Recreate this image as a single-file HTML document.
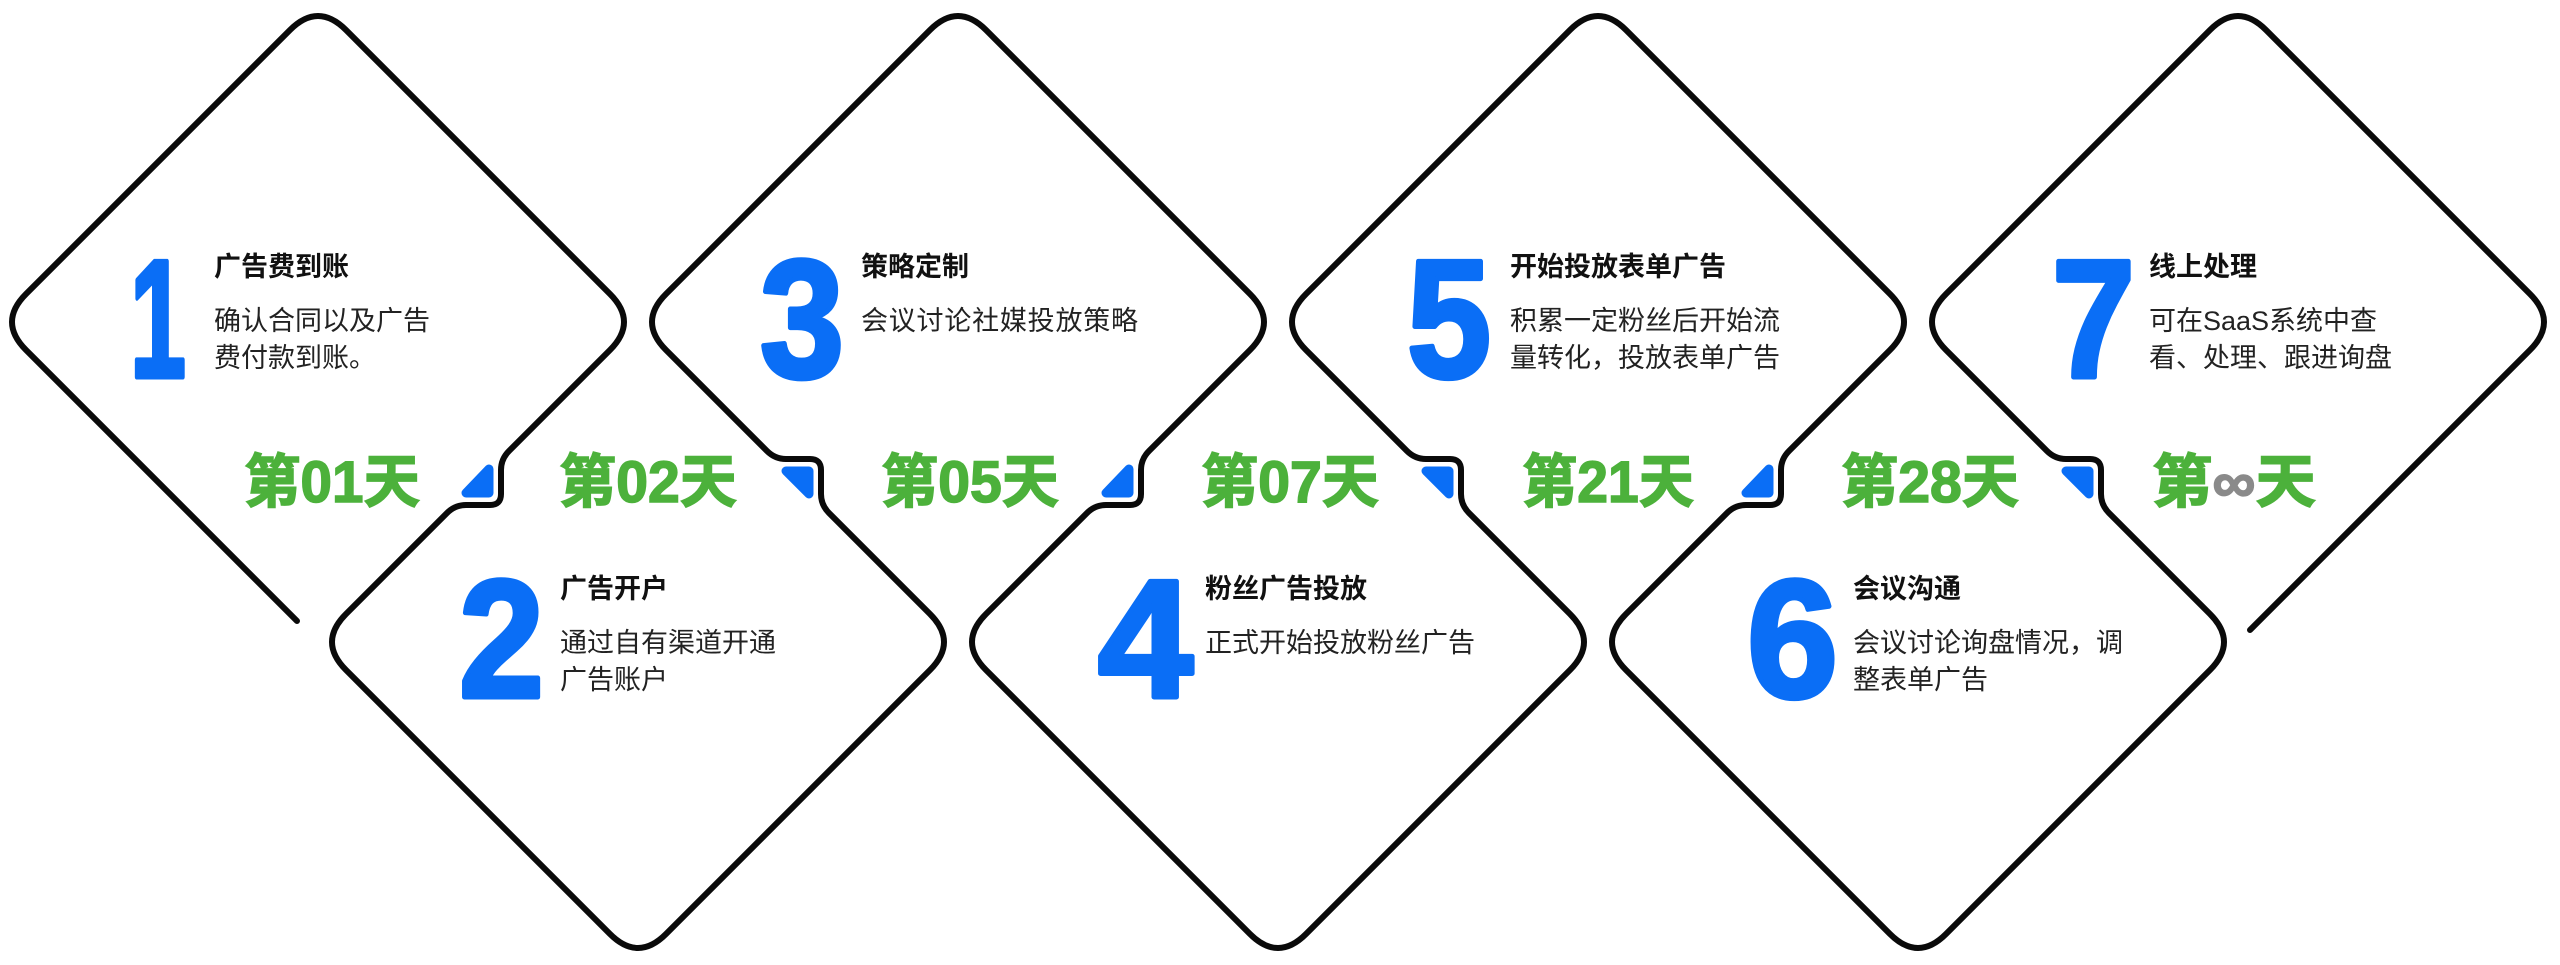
<!DOCTYPE html>
<html><head><meta charset="utf-8"><style>
html,body{margin:0;padding:0;background:#fff;}
svg{display:block;}
.n{font-family:"Liberation Sans",sans-serif;font-weight:700;font-size:168px;fill:#0a6ef6;stroke:#0a6ef6;stroke-width:5;stroke-linejoin:round;}
.t{font-family:"Liberation Sans","Noto Sans CJK SC",sans-serif;font-weight:700;font-size:27px;fill:#111;}
.d{font-family:"Liberation Sans","Noto Sans CJK SC",sans-serif;font-weight:400;font-size:27px;fill:#222;}
.g{font-family:"Liberation Sans","Noto Sans CJK SC",sans-serif;font-weight:700;font-size:58px;fill:#4cb13b;stroke:#4cb13b;stroke-width:1.5;}
</style></head><body>
<svg width="2560" height="965" viewBox="0 0 2560 965" xmlns="http://www.w3.org/2000/svg">
<path fill="none" stroke="#0a0a0a" stroke-width="6" stroke-linecap="round" stroke-linejoin="round" d="
M 297 621 L 26 350 Q -2 322 26 294 L 290 30 Q 318 2 346 30 L 610 294 Q 638 322 610 350 L 509 451 Q 501 459 501 470 L 501 494 Q 501 505 490 505 L 466 505 Q 455 505 447 513
L 346 614 Q 318 642 346 670 L 610 934 Q 638 962 666 934 L 930 670 Q 958 642 930 614 L 829 513 Q 821 505 821 494 L 821 470 Q 821 459 810 459 L 786 459 Q 775 459 767 451
L 666 350 Q 638 322 666 294 L 930 30 Q 958 2 986 30 L 1250 294 Q 1278 322 1250 350 L 1149 451 Q 1141 459 1141 470 L 1141 494 Q 1141 505 1130 505 L 1106 505 Q 1095 505 1087 513
L 986 614 Q 958 642 986 670 L 1250 934 Q 1278 962 1306 934 L 1570 670 Q 1598 642 1570 614 L 1469 513 Q 1461 505 1461 494 L 1461 470 Q 1461 459 1450 459 L 1426 459 Q 1415 459 1407 451
L 1306 350 Q 1278 322 1306 294 L 1570 30 Q 1598 2 1626 30 L 1890 294 Q 1918 322 1890 350 L 1789 451 Q 1781 459 1781 470 L 1781 494 Q 1781 505 1770 505 L 1746 505 Q 1735 505 1727 513
L 1626 614 Q 1598 642 1626 670 L 1890 934 Q 1918 962 1946 934 L 2210 670 Q 2238 642 2210 614 L 2109 513 Q 2101 505 2101 494 L 2101 470 Q 2101 459 2090 459 L 2066 459 Q 2055 459 2047 451
L 1946 350 Q 1918 322 1946 294 L 2210 30 Q 2238 2 2266 30 L 2530 294 Q 2558 322 2530 350 L 2250 630"/>
<g fill="#0a6ef6" stroke="#0a6ef6" stroke-width="9" stroke-linejoin="round">
<polygon points="489,469 489,493 466,493"/>
<polygon points="1129,469 1129,493 1106,493"/>
<polygon points="1769,469 1769,493 1746,493"/>
<polygon points="786,471 809,471 809,494"/>
<polygon points="1426,471 1449,471 1449,494"/>
<polygon points="2066,471 2089,471 2089,494"/>
</g>
<text class="n" x="130" y="377" textLength="56" lengthAdjust="spacingAndGlyphs">1</text>
<text class="n" x="459" y="697" textLength="85" lengthAdjust="spacingAndGlyphs">2</text>
<text class="n" x="760" y="377" textLength="84" lengthAdjust="spacingAndGlyphs">3</text>
<text class="n" x="1098" y="697" textLength="95" lengthAdjust="spacingAndGlyphs">4</text>
<text class="n" x="1407" y="377" textLength="84" lengthAdjust="spacingAndGlyphs">5</text>
<text class="n" x="1747" y="697" textLength="91" lengthAdjust="spacingAndGlyphs">6</text>
<text class="n" x="2052" y="377" textLength="83" lengthAdjust="spacingAndGlyphs">7</text>

<text class="t" x="214" y="276">广告费到账</text>
<text class="d" x="214" y="330">确认合同以及广告</text>
<text class="d" x="214" y="367">费付款到账。</text>

<text class="t" x="560" y="598">广告开户</text>
<text class="d" x="560" y="652">通过自有渠道开通</text>
<text class="d" x="560" y="689">广告账户</text>

<text class="t" x="861" y="276">策略定制</text>
<text class="d" x="861" y="330" textLength="277">会议讨论社媒投放策略</text>

<text class="t" x="1205" y="598">粉丝广告投放</text>
<text class="d" x="1205" y="652">正式开始投放粉丝广告</text>

<text class="t" x="1510" y="276">开始投放表单广告</text>
<text class="d" x="1510" y="330">积累一定粉丝后开始流</text>
<text class="d" x="1510" y="367">量转化，投放表单广告</text>

<text class="t" x="1853" y="598">会议沟通</text>
<text class="d" x="1853" y="652">会议讨论询盘情况，调</text>
<text class="d" x="1853" y="689">整表单广告</text>

<text class="t" x="2149" y="276">线上处理</text>
<text class="d" x="2149" y="330">可在SaaS系统中查</text>
<text class="d" x="2149" y="367">看、处理、跟进询盘</text>

<text class="g" x="332" y="502" text-anchor="middle" textLength="176" lengthAdjust="spacingAndGlyphs">第01天</text>
<text class="g" x="648" y="502" text-anchor="middle" textLength="178" lengthAdjust="spacingAndGlyphs">第02天</text>
<text class="g" x="970" y="502" text-anchor="middle" textLength="178" lengthAdjust="spacingAndGlyphs">第05天</text>
<text class="g" x="1290" y="502" text-anchor="middle" textLength="178" lengthAdjust="spacingAndGlyphs">第07天</text>
<text class="g" x="1608" y="502" text-anchor="middle" textLength="172" lengthAdjust="spacingAndGlyphs">第21天</text>
<text class="g" x="1930" y="502" text-anchor="middle" textLength="178" lengthAdjust="spacingAndGlyphs">第28天</text>
<text class="g" x="2234" y="502" text-anchor="middle" textLength="164" lengthAdjust="spacingAndGlyphs">第<tspan fill="#8a8a8a" stroke="#8a8a8a">∞</tspan>天</text>
</svg>
</body></html>
